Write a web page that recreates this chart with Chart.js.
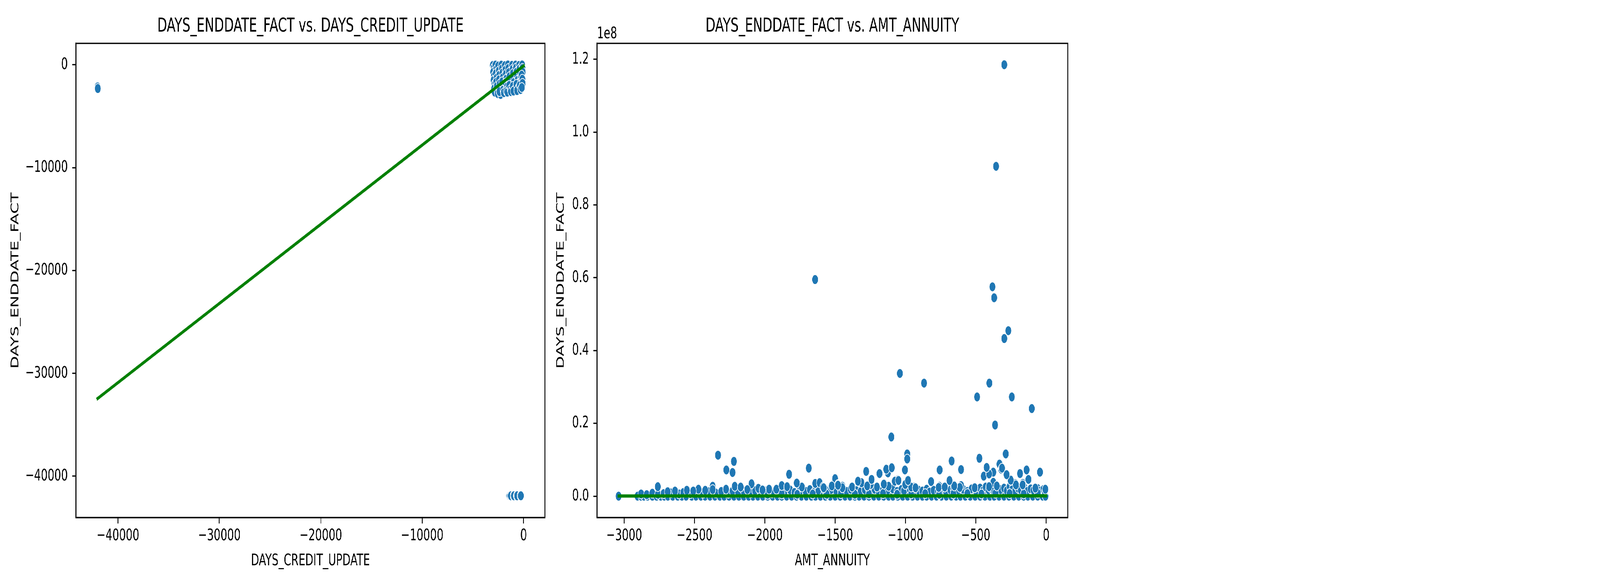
<!DOCTYPE html>
<html>
<head>
<meta charset="utf-8">
<script src="https://cdn.jsdelivr.net/npm/chart.js@4.4.1/dist/chart.umd.min.js"></script>
<style>
  html, body { margin: 0; padding: 0; background: #ffffff; overflow: hidden; }
  body { width: 100vw; height: 100vh; position: relative; }
  #stage { position: absolute; left: 0; top: 0; width: 6300px; height: 1500px; transform-origin: 0 0; background: #ffffff; }
  .box { position: absolute; top: 0; }
</style>
</head>
<body>
<div id="stage">
  <div class="box" style="left:0px;width:2160px;height:1500px;"><canvas id="left" width="2160" height="1500"></canvas></div>
  <div class="box" style="left:2160px;width:2100px;height:1500px;"><canvas id="right" width="2100" height="1500"></canvas></div>
</div>
<script>
// Fit the 6300x1500 design into whatever viewport the browser actually has.
(function () {
  const sx = Math.min(1, window.innerWidth / 6300);
  const sy = Math.min(1, window.innerHeight / 1500);
  document.getElementById('stage').style.transform = 'scale(' + sx + ',' + sy + ')';
})();

// ---------------- DATA ----------------
// Left panel: DAYS_ENDDATE_FACT (y) vs. DAYS_CREDIT_UPDATE (x)
const leftTitle = 'DAYS_ENDDATE_FACT vs. DAYS_CREDIT_UPDATE';
const leftXLabel = 'DAYS_CREDIT_UPDATE';
const leftYLabel = 'DAYS_ENDDATE_FACT';
const leftXTicks = [-40000, -30000, -20000, -10000, 0];
const leftYTicks = [-40000, -30000, -20000, -10000, 0];
const leftMainCluster = [
  [-3040,-60],[-2950,-300],[-2990,-700],[-2920,-1100],[-2960,-1500],[-2880,-1900],[-2900,-2300],[-2850,-2650],
  [-2780,-20],[-2700,-450],[-2750,-850],[-2680,-1300],[-2720,-1700],[-2650,-2100],[-2600,-2500],[-2550,-2800],
  [-2500,-100],[-2450,-600],[-2400,-1000],[-2420,-1450],[-2350,-1850],[-2300,-2250],[-2270,-2880],[-2380,-2600],
  [-2200,-30],[-2150,-400],[-2100,-800],[-2050,-1250],[-2120,-1650],[-2000,-2050],[-2020,-2450],[-1950,-2700],
  [-1850,-80],[-1800,-500],[-1750,-900],[-1700,-1350],[-1780,-1750],[-1650,-2150],[-1700,-2550],[-1600,-2650],
  [-1550,-10],[-1500,-350],[-1450,-750],[-1400,-1150],[-1350,-1600],[-1420,-2000],[-1300,-2400],[-1250,-2600],
  [-1150,-50],[-1100,-450],[-1050,-850],[-1000,-1300],[-950,-1700],[-1080,-2100],[-900,-2450],[-1000,-2550],
  [-800,-20],[-750,-300],[-700,-700],[-650,-1100],[-600,-1500],[-720,-1900],[-550,-2300],[-650,-2500],
  [-450,-60],[-400,-400],[-350,-800],[-300,-1200],[-250,-1600],[-380,-2000],[-300,-2400],
  [-150,-10],[-120,-350],[-100,-700],[-200,-1000],[-130,-1400],[-110,-1800],[-180,-2200]
];
const leftOutliers = [[-42016,-2150],[-41990,-2300]];
const leftBottomRow = [
  [-1450,-41900],[-1400,-41900],[-1330,-41900],[-1260,-41900],[-1020,-41900],
  [-960,-41900],[-700,-41900],[-640,-41900],[-330,-41900],[-274,-41900]
];
const leftFit = [[-42016,-32450],[0,-100]];

// Right panel: DAYS_ENDDATE_FACT (y) vs. AMT_ANNUITY (x)
const rightTitle = 'DAYS_ENDDATE_FACT vs. AMT_ANNUITY';
const rightXLabel = 'AMT_ANNUITY';
const rightYLabel = 'DAYS_ENDDATE_FACT';
const rightXTicks = [-3000, -2500, -2000, -1500, -1000, -500, 0];
const rightYTicks = [0, 0.2e8, 0.4e8, 0.6e8, 0.8e8, 1.0e8, 1.2e8];
const rightOffsetText = '1e8';
const rightOutliers = [
  [-298,1.185e8],[-356,0.906e8],[-1643,0.595e8],[-382,0.575e8],[-370,0.545e8],[-269,0.4545e8],
  [-298,0.433e8],[-1040,0.337e8],[-868,0.3105e8],[-404,0.3105e8],[-491,0.2725e8],[-244,0.2725e8],
  [-102,0.2406e8],[-363,0.1954e8],[-1101,0.1625e8],[-2333,0.1125e8],[-287,0.116e8],[-988,0.116e8],
  [-988,0.102e8],[-2220,0.0955e8],[-475,0.104e8],[-672,0.0966e8],[-2274,0.072e8],[-2230,0.065e8],
  [-1688,0.077e8],[-1828,0.060e8]
];
const rightMidBand = [
  [-332,0.088e8],[-319,0.074e8],[-421,0.077e8],[-401,0.061e8],[-376,0.066e8],[-444,0.055e8],[-282,0.058e8],
  [-1280,0.068e8],[-1186,0.061e8],[-1139,0.075e8],[-1099,0.078e8],[-1125,0.064e8],[-1004,0.072e8],[-759,0.072e8],
  [-605,0.073e8],[-186,0.062e8],[-139,0.072e8],[-44,0.066e8],[-125,0.046e8],[-251,0.043e8],[-217,0.034e8],
  [-166,0.035e8],[-376,0.038e8],[-1501,0.048e8],[-1481,0.032e8],[-1448,0.027e8],[-1380,0.025e8],[-1337,0.041e8],
  [-1313,0.037e8],[-1273,0.028e8],[-1244,0.046e8],[-1248,0.032e8],[-1203,0.025e8],[-1152,0.035e8],[-1120,0.027e8],
  [-1075,0.043e8],[-1053,0.045e8],[-1002,0.032e8],[-981,0.045e8],[-937,0.025e8],[-818,0.040e8],[-759,0.027e8],
  [-686,0.045e8],[-654,0.030e8],[-605,0.029e8],[-2761,0.026e8],[-2371,0.027e8],[-2371,0.018e8],[-2276,0.019e8],
  [-2214,0.027e8],[-2172,0.025e8],[-2095,0.034e8],[-2046,0.0215e8],[-1970,0.019e8],[-1918,0.019e8],[-1880,0.029e8],
  [-1842,0.026e8],[-1774,0.036e8],[-1737,0.025e8],[-1642,0.035e8],[-1611,0.037e8],[-1587,0.025e8],[-1524,0.028e8],
  [-2639,0.014e8],[-2555,0.016e8],[-2472,0.019e8],[-2424,0.016e8],[-2691,0.012e8],[-2509,0.014e8],[-2125,0.018e8],
  [-2017,0.017e8],[-6,0.019e8],[-1582,0.023e8],[-1449,0.023e8],[-960,0.025e8],[-929,0.023e8],[-764,0.024e8],
  [-721,0.025e8],[-614,0.024e8],[-508,0.023e8],[-406,0.026e8],[-351,0.028e8],[-77,0.022e8],[-215,0.031e8],
  [-167,0.031e8],[-653,0.028e8],[-1154,0.033e8],[-1272,0.028e8],[-1480,0.030e8],[-1773,0.036e8],[-252,0.044e8],
  [-126,0.046e8],[-687,0.043e8],[-982,0.043e8],[-1076,0.041e8],[-1050,0.043e8],[-1338,0.041e8],[-1241,0.046e8],
  [-281,0.059e8],[-406,0.061e8],[-314,0.077e8],[-423,0.079e8],[-757,0.072e8],[-1137,0.074e8],[-1098,0.078e8],
  [-1185,0.062e8]
];
const rightLowBand = [
  [-2880,0.006e8],[-2840,0.004e8],[-2800,0.008e8],[-2760,0.005e8],[-2720,0.007e8],[-2670,0.009e8],[-2610,0.006e8],
  [-2580,0.010e8],[-2530,0.007e8],[-2480,0.011e8],[-2440,0.008e8],[-2400,0.012e8],[-2350,0.009e8],[-2310,0.013e8],
  [-2260,0.008e8],[-2230,0.014e8],[-2190,0.010e8],[-2150,0.013e8],[-2100,0.009e8],[-2070,0.015e8],[-2030,0.011e8],
  [-1990,0.014e8],[-1950,0.009e8],[-1900,0.016e8],[-1860,0.012e8],[-1820,0.017e8],[-1790,0.010e8],[-1750,0.015e8],
  [-1710,0.013e8],[-1680,0.018e8],[-1650,0.011e8],[-1620,0.016e8],[-1560,0.014e8],[-1530,0.018e8],[-1490,0.012e8],
  [-1460,0.017e8],[-1420,0.013e8],[-1390,0.019e8],[-1350,0.015e8],[-1320,0.012e8],[-1290,0.018e8],[-1260,0.014e8],
  [-1220,0.019e8],[-1190,0.012e8],[-1160,0.017e8],[-1130,0.014e8],[-1090,0.020e8],[-1060,0.013e8],[-1030,0.018e8],
  [-1010,0.015e8],[-970,0.019e8],[-940,0.012e8],[-910,0.017e8],[-880,0.014e8],[-850,0.019e8],[-830,0.011e8],
  [-800,0.016e8],[-770,0.013e8],[-740,0.018e8],[-710,0.012e8],[-680,0.017e8],[-660,0.021e8],[-630,0.014e8],
  [-590,0.019e8],[-560,0.013e8],[-530,0.020e8],[-500,0.015e8],[-470,0.022e8],[-450,0.014e8],[-430,0.025e8],
  [-410,0.017e8],[-390,0.021e8],[-370,0.013e8],[-345,0.024e8],[-325,0.018e8],[-300,0.022e8],[-280,0.015e8],
  [-260,0.026e8],[-240,0.019e8],[-220,0.014e8],[-200,0.022e8],[-180,0.017e8],[-155,0.024e8],[-135,0.013e8],
  [-110,0.020e8],[-90,0.016e8],[-60,0.021e8],[-40,0.014e8],[-20,0.018e8],[-10,0.012e8],
  [-1980,0.005e8],[-1880,0.006e8],[-1770,0.005e8],[-1660,0.006e8],[-1560,0.005e8],[-1460,0.007e8],[-1360,0.005e8],
  [-1260,0.006e8],[-1160,0.007e8],[-1060,0.005e8],[-960,0.006e8],[-860,0.007e8],[-760,0.005e8],[-660,0.006e8],
  [-560,0.007e8],[-460,0.006e8],[-360,0.008e8],[-260,0.007e8],[-160,0.006e8],[-60,0.008e8]
];
const rightZeroRow = [
  [-3040,0],[-2905,0],[-2880,0],[-2860,0],[-2835,0],[-2800,0],[-2770,0],[-2740,0],[-2715,0],[-2690,0],
  [-2655,0],[-2620,0],[-2590,0],[-2560,0],[-2520,0],[-2490,0],[-2455,0],[-2425,0],[-2390,0],[-2355,0],
  [-2320,0],[-2290,0],[-2255,0],[-2220,0],[-2185,0],[-2150,0],[-2115,0],[-2085,0],[-2050,0],[-2015,0],
  [-1980,0],[-1945,0],[-1910,0],[-1880,0],[-1845,0],[-1810,0],[-1775,0],[-1740,0],[-1705,0],[-1670,0],
  [-1640,0],[-1605,0],[-1570,0],[-1535,0],[-1500,0],[-1465,0],[-1430,0],[-1395,0],[-1360,0],[-1330,0],
  [-1295,0],[-1260,0],[-1225,0],[-1190,0],[-1155,0],[-1120,0],[-1090,0],[-1055,0],[-1020,0],[-985,0],
  [-950,0],[-915,0],[-880,0],[-850,0],[-815,0],[-780,0],[-745,0],[-710,0],[-675,0],[-640,0],
  [-610,0],[-575,0],[-540,0],[-505,0],[-470,0],[-435,0],[-400,0],[-370,0],[-335,0],[-300,0],
  [-265,0],[-230,0],[-195,0],[-160,0],[-130,0],[-95,0],[-60,0],[-25,0],[-5,0]
];
const rightFit = [[-3040,50000],[0,80000]];

// ---------------- STYLE / HELPERS ----------------
const FONT = 'DejaVu Sans';
const TICK_PX = 41.7;
const TITLE_PX = 50;
const toXY = arr => arr.map(([x, y]) => ({x, y}));
const minusFmt = s => s.replace('-', '\u2212');
const fmtInt = v => minusFmt(String(v));
const fmtE8 = v => minusFmt((v / 1e8).toFixed(1));

const framePlugin = {
  id: 'frame',
  afterDatasetsDraw(chart) {
    const {ctx, chartArea: a} = chart;
    ctx.save();
    ctx.strokeStyle = '#000';
    ctx.lineWidth = 3.3;
    ctx.strokeRect(a.left, a.top, a.right - a.left, a.bottom - a.top);
    ctx.restore();
  }
};

function makeConfig(o) {
  return {
    type: 'scatter',
    data: {
      datasets: [
        { type: 'line', data: toXY(o.fit), borderColor: '#008000', borderWidth: 8.3,
          pointRadius: 0, borderCapStyle: 'square', fill: false, tension: 0, order: 0 },
        { data: toXY(o.points), backgroundColor: '#1f77b4', borderColor: '#ffffff',
          borderWidth: 2, pointRadius: 12.5, pointHoverRadius: 12.5, order: 1 }
      ]
    },
    options: {
      responsive: false, animation: false, devicePixelRatio: 1,
      layout: { padding: { left: 0, right: o.padRight, top: 0, bottom: 0 } },
      plugins: {
        legend: { display: false }, tooltip: { enabled: false },
        title: { display: true, text: o.title, fullSize: false, color: '#000',
                 font: { family: FONT, size: TITLE_PX, weight: 'normal', lineHeight: 1.2 },
                 padding: { top: 38.5, bottom: 12.5 } }
      },
      scales: {
        x: {
          type: 'linear', position: 'bottom', min: o.xMin, max: o.xMax,
          afterBuildTicks: s => { s.ticks = o.xTicks.map(v => ({value: v})); },
          afterFit: s => { s.height = 175; },
          ticks: { callback: o.xFmt, color: '#000', padding: 7, maxRotation: 0, autoSkip: false,
                   font: { family: FONT, size: TICK_PX, lineHeight: 1.2 } },
          grid: { display: true, drawOnChartArea: false, drawTicks: true, tickLength: 15,
                  tickWidth: 3.3, tickColor: '#000' },
          border: { display: true, color: '#000', width: 3.3 },
          title: { display: true, text: o.xLabel, color: '#000',
                   font: { family: FONT, size: TICK_PX, lineHeight: 1.2 },
                   padding: { top: 0, bottom: 39 } }
        },
        y: {
          type: 'linear', position: 'left', min: o.yMin, max: o.yMax,
          afterBuildTicks: s => { s.ticks = o.yTicks.map(v => ({value: v})); },
          afterFit: s => { s.width = o.yWidth; },
          ticks: { callback: o.yFmt, color: '#000', padding: 17, autoSkip: false,
                   font: { family: FONT, size: TICK_PX, lineHeight: 1.2 } },
          grid: { display: true, drawOnChartArea: false, drawTicks: true, tickLength: 15,
                  tickWidth: 3.3, tickColor: '#000' },
          border: { display: true, color: '#000', width: 3.3 },
          title: { display: true, text: o.yLabel, color: '#000',
                   font: { family: FONT, size: TICK_PX, lineHeight: 1.2 },
                   padding: { top: o.yTitlePad, bottom: 0 } }
        }
      }
    },
    plugins: o.plugins
  };
}

new Chart(document.getElementById('left'), makeConfig({
  title: leftTitle, xLabel: leftXLabel, yLabel: leftYLabel,
  points: [].concat(leftMainCluster, leftOutliers, leftBottomRow), fit: leftFit,
  xMin: -44150, xMax: 2096, yMin: -44027, yMax: 2089,
  xTicks: leftXTicks, yTicks: leftYTicks, xFmt: fmtInt, yFmt: fmtInt,
  yWidth: 299, padRight: 8, yTitlePad: 36, plugins: [framePlugin]
}));

const offsetTextPlugin = {
  id: 'offsetText',
  afterDraw(chart) {
    const {ctx, chartArea: a} = chart;
    ctx.save();
    ctx.fillStyle = '#000';
    ctx.font = TICK_PX + 'px "' + FONT + '"';
    ctx.textAlign = 'left';
    ctx.textBaseline = 'alphabetic';
    ctx.fillText(rightOffsetText, a.left, a.top - 13);
    ctx.restore();
  }
};

new Chart(document.getElementById('right'), makeConfig({
  title: rightTitle, xLabel: rightXLabel, yLabel: rightYLabel,
  points: [].concat(rightZeroRow, rightLowBand, rightMidBand, rightOutliers), fit: rightFit,
  xMin: -3193, xMax: 153, yMin: -5.9e6, yMax: 1.2437e8,
  xTicks: rightXTicks, yTicks: rightYTicks, xFmt: fmtInt, yFmt: fmtE8,
  yWidth: 191, padRight: 56, yTitlePad: 24, plugins: [framePlugin, offsetTextPlugin]
}));
</script>
</body>
</html>
